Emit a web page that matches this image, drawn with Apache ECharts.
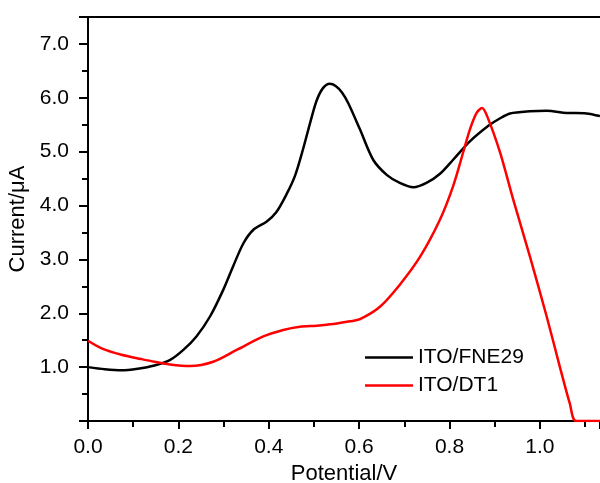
<!DOCTYPE html>
<html>
<head>
<meta charset="utf-8">
<script src="https://cdn.jsdelivr.net/npm/echarts@6/dist/echarts.min.js"></script>
<style>
  html, body { margin: 0; padding: 0; background: #fff; }
  #chart { width: 600px; height: 483px; }
</style>
</head>
<body>
<div id="chart"></div>
<script>
// Differential pulse voltammograms of the two modified electrodes
const seriesNames = ['ITO/FNE29', 'ITO/DT1'];

const fnePotential = [0, 0.037, 0.074, 0.11, 0.147, 0.181, 0.211, 0.24, 0.27, 0.299, 0.321, 0.344, 0.366, 0.395, 0.417, 0.44, 0.458, 0.476, 0.492, 0.506, 0.52, 0.535, 0.548, 0.562, 0.576, 0.602, 0.631, 0.661, 0.69, 0.72, 0.749, 0.779, 0.808, 0.845, 0.886, 0.912, 0.934, 0.978, 1.015, 1.059, 1.103, 1.133];
const fneCurrent   = [1.00, 0.96, 0.94, 0.97, 1.03, 1.13, 1.32, 1.57, 1.94, 2.43, 2.87, 3.30, 3.55, 3.70, 3.88, 4.22, 4.55, 5.05, 5.55, 5.95, 6.18, 6.26, 6.22, 6.10, 5.90, 5.41, 4.85, 4.57, 4.42, 4.34, 4.42, 4.59, 4.85, 5.19, 5.48, 5.62, 5.71, 5.75, 5.76, 5.72, 5.71, 5.66];

const dtPotential = [0, 0.03, 0.074, 0.118, 0.147, 0.181, 0.226, 0.277, 0.329, 0.388, 0.432, 0.469, 0.506, 0.543, 0.58, 0.602, 0.646, 0.69, 0.735, 0.779, 0.808, 0.83, 0.845, 0.86, 0.872, 0.886, 0.912, 0.941, 0.978, 1.015, 1.044, 1.066, 1.08, 1.133];
const dtCurrent   = [1.49, 1.35, 1.23, 1.15, 1.10, 1.05, 1.02, 1.10, 1.32, 1.57, 1.69, 1.75, 1.77, 1.80, 1.85, 1.89, 2.12, 2.53, 3.05, 3.74, 4.36, 4.98, 5.41, 5.72, 5.81, 5.60, 4.98, 4.11, 3.05, 1.94, 1.01, 0.33, 0, 0];

const xAxisName = 'Potential/V';
const yAxisName = 'Current/μA';

const pairs = (xs, ys) => xs.map((x, i) => [x, ys[i]]);
const FONT = 'Liberation Sans';

const chart = echarts.init(document.getElementById('chart'), null, { renderer: 'canvas' });

chart.setOption({
  animation: false,
  backgroundColor: '#ffffff',
  grid: { left: 88, right: 0, top: 17, bottom: 62, containLabel: false, outerBoundsMode: 'none' },
  legend: {
    orient: 'vertical',
    left: 365,
    top: 347,
    padding: 0,
    icon: 'rect',
    itemWidth: 48,
    itemHeight: 2.5,
    itemGap: 7,
    textStyle: { fontFamily: FONT, fontSize: 21, color: '#000', padding: [0, 0, 0, 0] },
    data: seriesNames
  },
  xAxis: [{
    type: 'value',
    min: 0,
    max: 1.133,
    interval: 0.2,
    name: xAxisName,
    nameLocation: 'middle',
    nameGap: 42,
    nameTextStyle: { fontFamily: FONT, fontSize: 22, color: '#000' },
    axisLine: { show: true, onZero: false, lineStyle: { color: '#000', width: 2 } },
    axisTick: { show: true, inside: false, length: 8, lineStyle: { color: '#000', width: 2 } },
    minorTick: { show: true, splitNumber: 2, length: 6, lineStyle: { color: '#000', width: 2 } },
    splitLine: { show: false },
    axisLabel: {
      showMaxLabel: false,
      margin: 16,
      fontFamily: FONT, fontSize: 21, color: '#000',
      formatter: v => v.toFixed(1)
    }
  }, {
    type: 'value',
    position: 'top',
    min: 0,
    max: 1.133,
    axisLine: { show: true, onZero: false, lineStyle: { color: '#000', width: 2 } },
    axisTick: { show: false },
    axisLabel: { show: false },
    splitLine: { show: false }
  }],
  yAxis: {
    type: 'value',
    min: 0,
    max: 7.5,
    interval: 1,
    name: yAxisName,
    nameLocation: 'middle',
    nameGap: 55,
    nameTextStyle: { fontFamily: FONT, fontSize: 22, color: '#000' },
    axisLine: { show: true, onZero: false, lineStyle: { color: '#000', width: 2 } },
    axisTick: { show: true, inside: false, length: 9, lineStyle: { color: '#000', width: 2 } },
    minorTick: { show: true, splitNumber: 2, length: 6, lineStyle: { color: '#000', width: 2 } },
    splitLine: { show: false },
    axisLabel: {
      margin: 19,
      fontFamily: FONT, fontSize: 21, color: '#000',
      formatter: v => (v >= 1 && Math.abs(v - Math.round(v)) < 1e-9) ? v.toFixed(1) : ''
    }
  },
  series: [{
    name: seriesNames[0],
    type: 'line',
    data: pairs(fnePotential, fneCurrent),
    symbol: 'none',
    smooth: 0.3,
    lineStyle: { color: '#000000', width: 2.5 },
    itemStyle: { color: '#000000' }
  }, {
    name: seriesNames[1],
    type: 'line',
    data: pairs(dtPotential, dtCurrent),
    symbol: 'none',
    smooth: 0.3,
    lineStyle: { color: '#ff0000', width: 2.5 },
    itemStyle: { color: '#ff0000' }
  }]
});
</script>
</body>
</html>
